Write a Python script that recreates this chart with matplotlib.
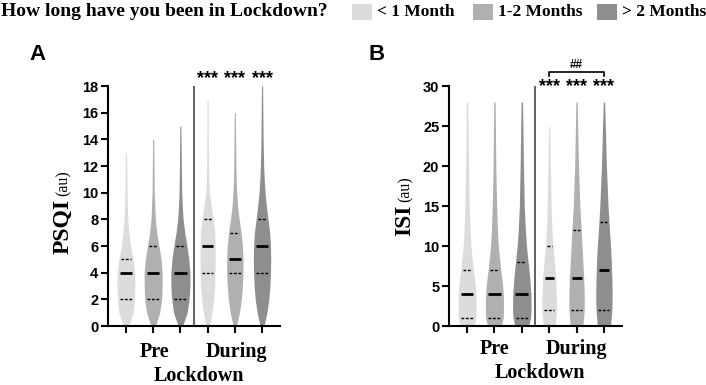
import numpy as np
import matplotlib
matplotlib.use("Agg")
import matplotlib.pyplot as plt
from matplotlib.patches import Rectangle

# ---------------- data ----------------
groups = ["< 1 Month", "1-2 Months", "> 2 Months"]
periods = ["Pre", "During"]
colors = ["#dcdcdc", "#b0b0b0", "#8e8e8e"]

# PSQI violin profiles (y level, half-width) for Pre <1, Pre 1-2, Pre >2, During <1, During 1-2, During >2
psqi_y = [
    [0, 1, 2, 3, 4, 5, 6, 7, 8, 9, 10, 12, 13],
    [0, 1, 2, 3, 4, 5, 6, 7, 8, 9, 10, 12, 14],
    [0, 1, 2, 3, 4, 5, 6, 7, 8, 9, 10, 12, 15],
    [0, 1, 2, 3, 4, 5, 6, 7, 8, 9, 10, 11, 12, 14, 17],
    [0, 1, 2, 3, 4, 5, 6, 7, 8, 9, 10, 11, 12, 14, 16],
    [0, 1, 2, 3, 4, 5, 6, 7, 8, 9, 10, 11, 12, 14, 16, 18],
]
psqi_w = [
    [0.10, 0.26, 0.31, 0.33, 0.32, 0.26, 0.17, 0.11, 0.07, 0.05, 0.04, 0.03, 0.02],
    [0.08, 0.24, 0.31, 0.33, 0.33, 0.29, 0.21, 0.13, 0.08, 0.06, 0.04, 0.03, 0.02],
    [0.08, 0.25, 0.32, 0.35, 0.35, 0.31, 0.24, 0.16, 0.10, 0.07, 0.05, 0.035, 0.02],
    [0.06, 0.16, 0.22, 0.26, 0.27, 0.28, 0.28, 0.26, 0.21, 0.13, 0.07, 0.045, 0.035, 0.025, 0.02],
    [0.06, 0.17, 0.24, 0.28, 0.30, 0.30, 0.28, 0.23, 0.16, 0.10, 0.07, 0.05, 0.04, 0.03, 0.02],
    [0.07, 0.18, 0.25, 0.29, 0.31, 0.32, 0.31, 0.28, 0.22, 0.16, 0.11, 0.08, 0.06, 0.04, 0.03, 0.02],
]
psqi_median = [4, 4, 4, 6, 5, 6]
psqi_q1 = [2, 2, 2, 4, 4, 4]
psqi_q3 = [5, 6, 6, 8, 7, 8]

# ISI violin profiles
isi_y = [
    [0, 1, 2, 3, 4, 5, 6, 7, 8, 10, 12, 15, 20, 25, 28],
    [0, 1, 2, 3, 4, 5, 6, 7, 8, 10, 12, 15, 20, 25, 28],
    [0, 1, 2, 4, 6, 8, 10, 12, 15, 20, 25, 28],
    [0, 2, 4, 6, 8, 10, 12, 15, 20, 25],
    [0, 2, 4, 6, 8, 10, 12, 15, 20, 25, 28],
    [0, 2, 4, 6, 8, 10, 12, 15, 20, 25, 28],
]
isi_w = [
    [0.25, 0.32, 0.33, 0.33, 0.32, 0.30, 0.27, 0.23, 0.20, 0.14, 0.11, 0.08, 0.05, 0.035, 0.025],
    [0.25, 0.32, 0.33, 0.33, 0.32, 0.30, 0.27, 0.23, 0.20, 0.14, 0.11, 0.08, 0.05, 0.035, 0.025],
    [0.25, 0.32, 0.34, 0.33, 0.29, 0.23, 0.17, 0.13, 0.09, 0.06, 0.04, 0.025],
    [0.22, 0.27, 0.26, 0.24, 0.19, 0.14, 0.10, 0.07, 0.045, 0.02],
    [0.23, 0.28, 0.28, 0.26, 0.23, 0.20, 0.17, 0.12, 0.07, 0.04, 0.025],
    [0.24, 0.29, 0.30, 0.29, 0.27, 0.24, 0.20, 0.15, 0.09, 0.05, 0.025],
]
isi_median = [4, 4, 4, 6, 6, 7]
isi_q1 = [1, 1, 1, 2, 2, 2]
isi_q3 = [7, 7, 8, 10, 12, 13]

sig_during = ["***", "***", "***"]
between_sig = "##"

# ---------------- figure ----------------
fig = plt.figure(figsize=(7.06, 3.85), dpi=100)
W, H = 706, 385


def fx(px):
    return px / W


def fy(py):
    return 1 - py / H


serif = "Liberation Serif"
sans = "Liberation Sans"


def draw_panel(ax, ys, ws, med, q1, q3, ymax, ystep):
    pos = np.arange(6)
    for i in range(6):
        y = np.array(ys[i], float)
        w = np.array(ws[i], float)
        c = colors[i % 3]
        ax.fill_betweenx(y, pos[i] - w, pos[i] + w, color=c, lw=0, zorder=2)
        for val, ls, lw in [(med[i], "-", 2.0), (q1[i], (0, (2, 1.2)), 1.0), (q3[i], (0, (2, 1.2)), 1.0)]:
            hw = 0.7 * np.interp(val, y, w)
            ax.plot([pos[i] - hw, pos[i] + hw], [val, val], color="black", lw=lw, ls=ls,
                    solid_capstyle="butt", zorder=3)
    ax.plot([2.5, 2.5], [0, ymax], color="#555555", lw=1.3, zorder=1)
    ax.set_xlim(-0.66, 5.66)
    ax.set_ylim(0, ymax)
    ax.set_yticks(np.arange(0, ymax + 0.1, ystep))
    ax.set_xticks(pos)
    ax.set_xticklabels([])
    for s in ["top", "right"]:
        ax.spines[s].set_visible(False)
    for s in ["left", "bottom"]:
        ax.spines[s].set_linewidth(1.5)
        ax.spines[s].set_color("black")
    ax.tick_params(axis="both", direction="out", length=5, width=1.5, color="black")
    ax.tick_params(axis="y", pad=2)
    for lab in ax.get_yticklabels():
        lab.set_fontfamily(sans)
        lab.set_fontweight("bold")
        lab.set_fontsize(10.5)
    return pos


# Panel A
axA = fig.add_axes([fx(108), fy(326), fx(280 - 108), (326 - 86) / H])
posA = draw_panel(axA, psqi_y, psqi_w, psqi_median, psqi_q1, psqi_q3, 18, 2)
for k in range(3):
    axA.text(posA[3 + k], 18.55, sig_during[k], ha="center", va="center", fontsize=13,
             fontweight="bold", family=sans, clip_on=False)

# Panel B
axB = fig.add_axes([fx(449), fy(326), fx(622 - 449), (326 - 86) / H])
posB = draw_panel(axB, isi_y, isi_w, isi_median, isi_q1, isi_q3, 30, 5)
for k in range(3):
    axB.text(posB[3 + k], 29.9, sig_during[k], ha="center", va="center", fontsize=13,
             fontweight="bold", family=sans, clip_on=False)
axB.plot([posB[3], posB[3], posB[5], posB[5]], [31.3, 31.8, 31.8, 31.3], color="black",
         lw=1.2, clip_on=False)
axB.text((posB[3] + posB[5]) / 2, 31.9, between_sig, ha="center", va="bottom", fontsize=8.5,
         fontweight="bold", family=sans, clip_on=False)

# Y labels
fig.text(fx(68), fy(199), "PSQI", rotation=90, rotation_mode="anchor", ha="right", va="baseline",
         family=serif, fontweight="bold", fontsize=17)
fig.text(fx(68), fy(196), "(au)", rotation=90, rotation_mode="anchor", ha="left", va="baseline",
         family=serif, fontsize=11.5)
fig.text(fx(410), fy(205), "ISI", rotation=90, rotation_mode="anchor", ha="right", va="baseline",
         family=serif, fontweight="bold", fontsize=17)
fig.text(fx(410), fy(202), "(au)", rotation=90, rotation_mode="anchor", ha="left", va="baseline",
         family=serif, fontsize=11.5)

# X group labels
for (cx, lab) in [(155, "Pre"), (237, "During")]:
    fig.text(fx(cx), fy(352), lab, ha="center", va="center", family=serif, fontweight="bold", fontsize=14.5)
fig.text(fx(199), fy(376), "Lockdown", ha="center", va="center", family=serif, fontweight="bold", fontsize=14.5)
for (cx, lab) in [(495, "Pre"), (577, "During")]:
    fig.text(fx(cx), fy(349), lab, ha="center", va="center", family=serif, fontweight="bold", fontsize=14.5)
fig.text(fx(540), fy(373), "Lockdown", ha="center", va="center", family=serif, fontweight="bold", fontsize=14.5)

# Panel letters
fig.text(fx(29), fy(54), "A", ha="left", va="center", family=sans, fontweight="bold", fontsize=16)
fig.text(fx(369), fy(54), "B", ha="left", va="center", family=sans, fontweight="bold", fontsize=16)

# Legend header
fig.text(fx(1), fy(12), "How long have you been in Lockdown?", ha="left", va="center",
         family=serif, fontweight="bold", fontsize=14)
patch_x = [352, 473, 597]
for k in range(3):
    fig.patches.append(Rectangle((fx(patch_x[k]), fy(20)), fx(20), 16 / H, transform=fig.transFigure,
                                 facecolor=colors[k], edgecolor="none"))
    fig.text(fx(patch_x[k] + 25), fy(12), groups[k], ha="left", va="center",
             family=serif, fontweight="bold", fontsize=12.5)

fig.savefig("out.png", dpi=100)
